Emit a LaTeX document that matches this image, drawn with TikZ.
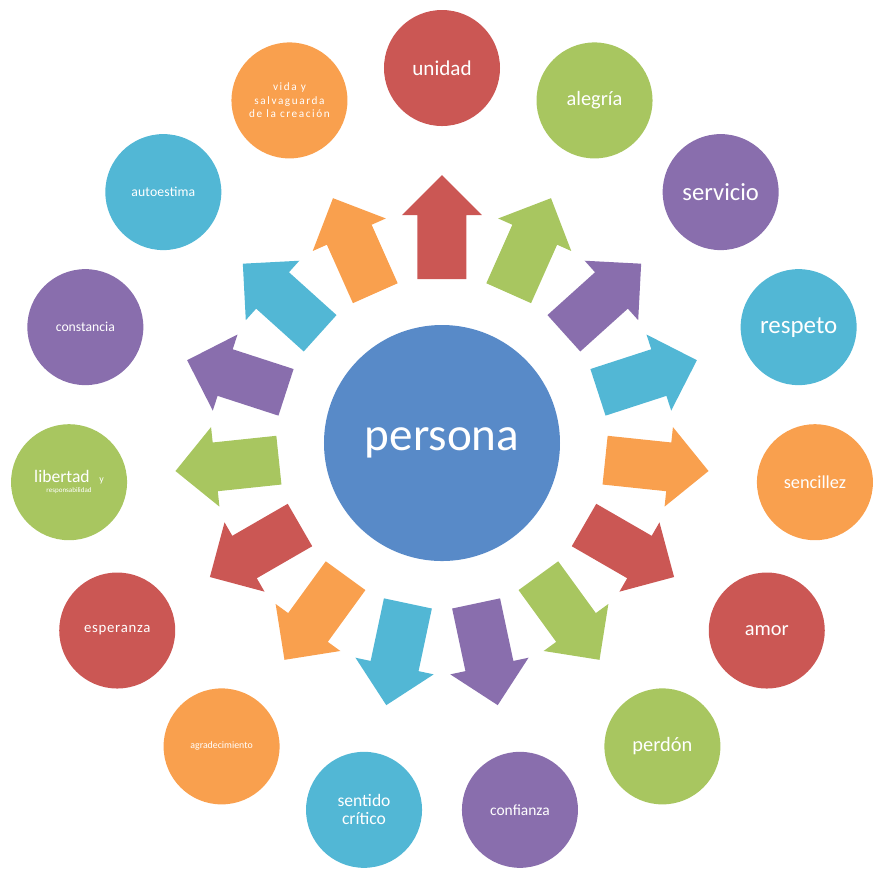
\documentclass[tikz,border=0pt]{standalone}
\usepackage{fontspec}
\setmainfont{Carlito}
\usepackage{tikz}
\definecolor{rojo}{RGB}{203,87,84}
\definecolor{verde}{RGB}{168,198,96}
\definecolor{morado}{RGB}{137,110,173}
\definecolor{cian}{RGB}{82,183,213}
\definecolor{naranja}{RGB}{249,160,78}
\definecolor{azul}{RGB}{88,138,200}
\newcommand{\tamano}[2]{\fontsize{#1}{#2}\selectfont}
\tikzset{
  valor/.style={circle, minimum size=1.16cm, inner sep=0pt, text=white, align=center},
}

\begin{document}
\begin{tikzpicture}[thick]
\useasboundingbox (-4.42,-4.39) rectangle (4.50,4.43);
%%%%% Flechas %%%%%
\foreach \ang/\col in {90/rojo,66/verde,42/morado,18/cian,-6/naranja,-30/rojo,-54/verde,-78/morado,-102/cian,-126/naranja,-150/rojo,-174/verde,162/morado,138/cian,114/naranja}{
\fill[\col, rotate=\ang] (1.64,-0.245)--(2.28,-0.245)--(2.28,-0.40)--(2.68,0)--(2.28,0.40)--(2.28,0.245)--(1.64,0.245)--cycle;
}
%%%%% Centro %%%%%
\node[circle, fill=azul, minimum size=2.36cm, inner sep=0pt, text=white, font=\tamano{13.4}{16}] (persona) at (0,0) {persona};
%%%%% Valores %%%%%
\node[valor, fill=rojo, font=\tamano{6}{7}] (unidad) at (90:3.75) {unidad};
\node[valor, fill=verde, font=\tamano{5.8}{7}] (alegria) at (66:3.75) {alegría};
\node[valor, fill=morado, font=\tamano{7}{8}] (servicio) at (42:3.75) {servicio};
\node[valor, fill=cian, font=\tamano{7.1}{8}] (respeto) at (18:3.75) {respeto};
\node[valor, fill=naranja, font=\tamano{5.2}{6}] (sencillez) at (-6:3.75) {sencillez};
\node[valor, fill=rojo, font=\tamano{5.8}{7}] (amor) at (-30:3.75) {amor};
\node[valor, fill=verde, font=\tamano{5.8}{7}] (perdon) at (-54:3.75) {perdón};
\node[valor, fill=morado, font=\tamano{4.4}{5}] (confianza) at (-78:3.75) {confianza};
\node[valor, fill=cian, font=\tamano{5}{5.1}] (sentido) at (-102:3.75) {sentido\\crítico};
\node[valor, fill=naranja, font=\tamano{2.8}{3.4}] (agradecimiento) at (-126:3.75) {agradecimiento};
\node[valor, fill=rojo, font=\tamano{4.2}{5}\addfontfeatures{LetterSpace=5}] (esperanza) at (-150:3.75) {esperanza};
\node[valor, fill=verde, font=\tamano{5}{5}] (libertad) at (-174:3.75) {libertad\hspace{0.55em}{\tamano{2.8}{3}y}\\[-2.2pt]{\tamano{2}{2.4}responsabilidad}};
\node[valor, fill=morado, font=\tamano{3.9}{4.6}] (constancia) at (162:3.75) {constancia};
\node[valor, fill=cian, font=\tamano{3.9}{4.6}\addfontfeatures{LetterSpace=1}] (autoestima) at (138:3.75) {autoestima};
\node[valor, fill=naranja, font=\tamano{3.2}{3.84}\addfontfeatures{LetterSpace=14}] (vida) at (114:3.75) {vida y\\salvaguarda\\de la creación};
\end{tikzpicture}
\end{document}
